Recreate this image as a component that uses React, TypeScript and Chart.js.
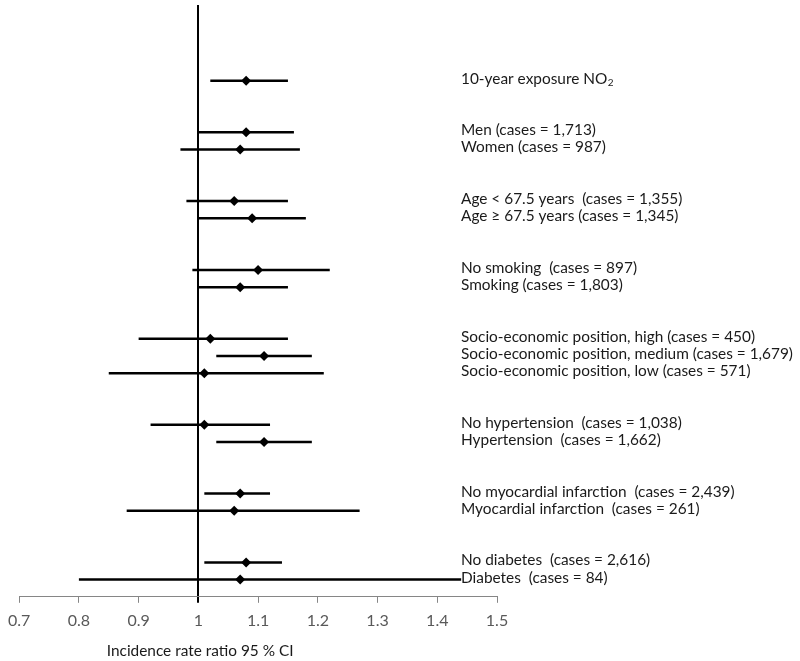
import React, { useEffect, useRef } from 'react';
import { Chart, registerables } from 'chart.js';

Chart.register(...registerables);

// Row labels (top to bottom)
const rowLabels: string[] = [
  '10-year exposure NO',
  'Men (cases = 1,713)',
  'Women (cases = 987)',
  'Age < 67.5 years  (cases = 1,355)',
  'Age \u2265 67.5 years (cases = 1,345)',
  'No smoking  (cases = 897)',
  'Smoking (cases = 1,803)',
  'Socio-economic position, high (cases = 450)',
  'Socio-economic position, medium (cases = 1,679)',
  'Socio-economic position, low (cases = 571)',
  'No hypertension  (cases = 1,038)',
  'Hypertension  (cases = 1,662)',
  'No myocardial infarction  (cases = 2,439)',
  'Myocardial infarction  (cases = 261)',
  'No diabetes  (cases = 2,616)',
  'Diabetes  (cases = 84)',
];
// Number of rows in each group
const groupSizes: number[] = [1, 2, 2, 2, 3, 2, 2, 2];
// Incidence rate ratio estimates and 95% CI
const estimates: number[] = [1.08, 1.08, 1.07, 1.06, 1.09, 1.10, 1.07, 1.02, 1.11, 1.01, 1.01, 1.11, 1.07, 1.06, 1.08, 1.07];
const lowerCI: number[] = [1.02, 1.00, 0.97, 0.98, 1.00, 0.99, 1.00, 0.90, 1.03, 0.85, 0.92, 1.03, 1.01, 0.88, 1.01, 0.80];
const upperCI: number[] = [1.15, 1.16, 1.17, 1.15, 1.18, 1.22, 1.15, 1.15, 1.19, 1.21, 1.12, 1.19, 1.12, 1.27, 1.14, 1.44];
const xMin = 0.7;
const xMax = 1.5;
const xStep = 0.1;
const xTitle = 'Incidence rate ratio 95 % CI';

const FONT = 'Lato, "Open Sans", sans-serif';

// Row slot positions: groups separated by two blank slots
const rowSlots: number[] = (() => {
  const out: number[] = [];
  let slot = 0;
  groupSizes.forEach((n, gi) => {
    if (gi > 0) slot += 2;
    for (let k = 0; k < n; k++) {
      out.push(slot);
      slot += 1;
    }
  });
  return out;
})();

export default function App() {
  const ref = useRef<HTMLCanvasElement | null>(null);

  useEffect(() => {
    if (!ref.current) return;

    const labelPlugin = {
      id: 'rowLabels',
      afterDraw(chart: any) {
        const ctx = chart.ctx;
        const yScale = chart.scales.y;
        const area = chart.chartArea;
        ctx.save();
        ctx.fillStyle = '#1a1a1a';
        ctx.textAlign = 'left';
        ctx.textBaseline = 'middle';
        rowLabels.forEach((lab, i) => {
          const y = yScale.getPixelForValue(rowSlots[i]) - 2;
          const x = area.right - 36;
          ctx.font = '15.4px ' + FONT;
          ctx.fillText(lab, x, y);
          if (i === 0) {
            const w = ctx.measureText(lab).width;
            ctx.font = '10px ' + FONT;
            ctx.fillText('2', x + w + 0.5, y + 4);
          }
        });
        // axis title
        ctx.font = '15.4px ' + FONT;
        ctx.textAlign = 'center';
        ctx.fillText(xTitle, area.left + 181, area.bottom + 54);
        ctx.restore();
      },
    };

    const ciSets = rowLabels.map((_, i) => ({
      type: 'line' as const,
      data: [
        { x: lowerCI[i], y: rowSlots[i] },
        { x: upperCI[i], y: rowSlots[i] },
      ],
      borderColor: '#000',
      borderWidth: 2.5,
      pointRadius: 0,
      showLine: true,
      fill: false,
    }));

    const estSet = {
      type: 'scatter' as const,
      data: estimates.map((v, i) => ({ x: v, y: rowSlots[i] })),
      pointStyle: 'rectRot',
      pointRadius: 5,
      backgroundColor: '#000',
      borderColor: '#000',
      borderWidth: 0,
    };

    const isOne = (v: number) => Math.abs(v - 1) < 1e-9;

    const chart = new Chart(ref.current, {
      type: 'scatter',
      data: { datasets: [...ciSets, estSet] as any },
      plugins: [labelPlugin],
      options: {
        animation: false,
        responsive: false,
        maintainAspectRatio: false,
        layout: { padding: { left: 17, right: 303, top: 2, bottom: 23 } },
        plugins: { legend: { display: false }, tooltip: { enabled: false } },
        scales: {
          x: {
            type: 'linear',
            min: xMin,
            max: xMax,
            ticks: {
              stepSize: xStep,
              padding: 8,
              color: '#595959',
              font: { family: FONT, size: 16 },
              callback: (v: any) => String(Math.round(Number(v) * 10) / 10),
            },
            grid: {
              drawOnChartArea: true,
              drawTicks: true,
              tickLength: 6,
              color: (c: any) => (c.tick && isOne(c.tick.value) ? '#000' : 'rgba(0,0,0,0)'),
              lineWidth: (c: any) => (c.tick && isOne(c.tick.value) ? 2 : 1),
              tickColor: (c: any) => (c.tick && isOne(c.tick.value) ? '#000' : '#868686'),
              tickWidth: (c: any) => (c.tick && isOne(c.tick.value) ? 2 : 1),
            } as any,
            border: { display: true, color: '#868686', width: 1 },
          },
          y: {
            type: 'linear',
            display: false,
            reverse: true,
            min: -4.4,
            max: 30.0,
          },
        },
      },
    });

    return () => chart.destroy();
  }, []);

  return (
    <div style={{ position: 'fixed', left: 0, top: 0, width: 800, height: 661, background: '#fff' }}>
      <canvas ref={ref} width={800} height={661} />
    </div>
  );
}
